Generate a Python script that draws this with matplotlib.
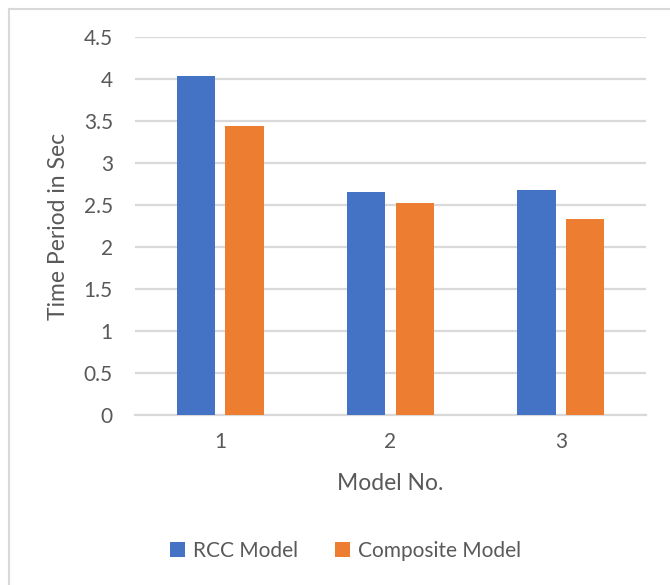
import matplotlib
matplotlib.use("Agg")
import matplotlib.pyplot as plt
import numpy as np
from matplotlib.lines import Line2D

# Datos
modelos = ["1", "2", "3"]
rcc = [4.04, 2.66, 2.68]
composite = [3.45, 2.53, 2.34]
y_ticks = [0, 0.5, 1, 1.5, 2, 2.5, 3, 3.5, 4, 4.5]
y_tick_labels = ["0", "0.5", "1", "1.5", "2", "2.5", "3", "3.5", "4", "4.5"]

azul = "#4472C4"
naranja = "#ED7D31"
gris_texto = "#595959"
gris_rejilla = "#D9D9D9"

plt.rcParams["font.family"] = ["Lato", "DejaVu Sans"]

fig = plt.figure(figsize=(6.7, 5.85), dpi=100)
ax = fig.add_axes([0.2015, 0.2906, 0.7625, 0.6454])

x = np.arange(len(modelos))
ancho = 0.226
desp = 0.143
ax.bar(x - desp, rcc, ancho, color=azul, label="RCC Model", zorder=3)
ax.bar(x + desp, composite, ancho, color=naranja, label="Composite Model", zorder=3)

ax.set_xlim(-0.5, 2.5)
ax.set_ylim(0, 4.5)
ax.set_yticks(y_ticks)
ax.set_yticklabels(y_tick_labels)
ax.set_xticks(x)
ax.set_xticklabels(modelos)
ax.grid(axis="y", color=gris_rejilla, linewidth=1.6, zorder=0)
ax.tick_params(length=0, labelsize=15, colors=gris_texto)
ax.tick_params(axis="y", pad=16)
ax.tick_params(axis="x", pad=12)
for s in ["top", "right", "left"]:
    ax.spines[s].set_visible(False)
ax.spines["bottom"].set_color(gris_rejilla)
ax.spines["bottom"].set_linewidth(1.6)

ax.set_xlabel("Model No.", fontsize=16.5, color=gris_texto, va="center")
ax.set_ylabel("Time Period in Sec", fontsize=16.5, color=gris_texto, va="center")
ax.xaxis.set_label_coords(0.5, -0.1827)
ax.yaxis.set_label_coords(-0.1497, 0.5)

# borde del área del gráfico
fig.add_artist(Line2D([0.0127, 0.0127], [0, 0.984], color="#D9D9D9", lw=1.5))
fig.add_artist(Line2D([0.0127, 1.0], [0.984, 0.984], color="#D9D9D9", lw=1.5))

fig.legend(loc="center", bbox_to_anchor=(0.516, 0.058), ncol=2, frameon=False,
           fontsize=15, labelcolor=gris_texto, handlelength=0.7, handleheight=0.7,
           handletextpad=0.4, columnspacing=1.8)

fig.savefig("out.png", dpi=100)
